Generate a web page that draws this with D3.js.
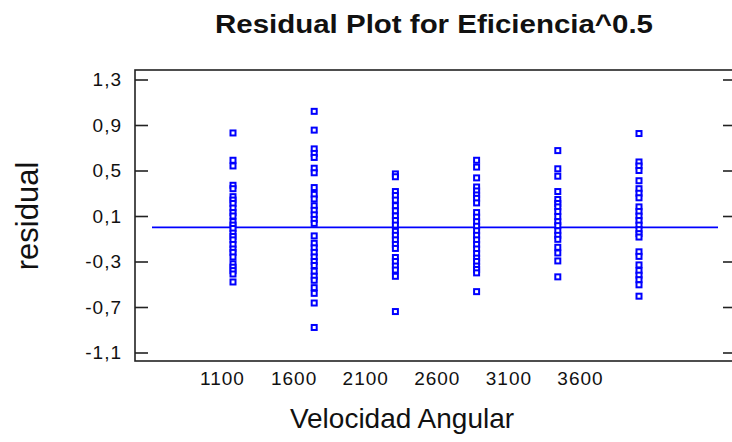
<!DOCTYPE html>
<html>
<head>
<meta charset="utf-8">
<script src="https://cdn.jsdelivr.net/npm/d3@7"></script>
<style>
  html, body { margin: 0; padding: 0; background: #fff; }
  svg { display: block; font-family: "Liberation Sans", Arial, sans-serif; }
</style>
</head>
<body>
<div id="chart"></div>
<script>
// velocity levels (x categories) and tick labels
const levels = [1100, 1600, 2100, 2600, 3100, 3600];
const yTicks = [1.3, 0.9, 0.5, 0.1, -0.3, -0.7, -1.1];

// residuals, one array per level
const res1100 = [0.83, 0.59, 0.54, 0.37, 0.34, 0.27, 0.24, 0.21, 0.17, 0.13, 0.10, 0.05, 0.02, -0.01, -0.05, -0.08, -0.11, -0.15, -0.19, -0.22, -0.26, -0.32, -0.35, -0.38, -0.41, -0.48];
const res1600 = [1.02, 0.855, 0.69, 0.65, 0.615, 0.52, 0.48, 0.35, 0.29, 0.25, 0.19, 0.15, 0.11, 0.07, 0.035, -0.075, -0.14, -0.18, -0.22, -0.26, -0.30, -0.335, -0.385, -0.43, -0.465, -0.53, -0.58, -0.665, -0.88];
const res2100 = [0.47, 0.445, 0.315, 0.28, 0.24, 0.19, 0.145, 0.10, 0.06, 0.02, -0.035, -0.07, -0.11, -0.15, -0.185, -0.265, -0.30, -0.34, -0.375, -0.43, -0.74];
const res2600 = [0.59, 0.53, 0.435, 0.355, 0.32, 0.285, 0.255, 0.215, 0.13, 0.09, 0.05, 0.01, -0.03, -0.07, -0.11, -0.15, -0.19, -0.23, -0.27, -0.30, -0.34, -0.37, -0.40, -0.565];
const res3100 = [0.675, 0.515, 0.45, 0.315, 0.245, 0.21, 0.18, 0.14, 0.095, 0.05, 0.015, -0.03, -0.07, -0.105, -0.175, -0.225, -0.295, -0.435];
const res3600 = [0.825, 0.575, 0.54, 0.50, 0.41, 0.34, 0.30, 0.26, 0.18, 0.14, 0.10, 0.06, 0.02, -0.02, -0.055, -0.085, -0.215, -0.255, -0.33, -0.38, -0.42, -0.46, -0.505, -0.605];

const residuals = [res1100, res1600, res2100, res2600, res3100, res3600];
const points = [];
levels.forEach((lv, i) => residuals[i].forEach(r => points.push({ level: lv, value: r })));

const width = 732, height = 442;
const frame = { left: 135, right: 736, top: 70, bottom: 361 };

const svg = d3.select('#chart').append('svg')
    .attr('width', width)
    .attr('height', height);

const yScale = d3.scaleLinear()
    .domain([1.3, -1.1])
    .range([79.5, 352.5]);

// point columns
const xPoint = d3.scalePoint()
    .domain(levels)
    .range([233, 639]);

// the tick labels sit a bit left of the columns in the original
const xLabel = d3.scaleLinear()
    .domain([1100, 3600])
    .range([222, 580]);

// comma decimals, plain hyphen for minus
const fmt = d => d3.format('.1f')(d).replace('.', ',').replace('\u2212', '-');

// frame
svg.append('rect')
    .attr('x', frame.left)
    .attr('y', frame.top)
    .attr('width', frame.right - frame.left)
    .attr('height', frame.bottom - frame.top)
    .attr('fill', 'none')
    .attr('stroke', '#222')
    .attr('stroke-width', 1.6);

// left axis, ticks pointing inward
const leftAxis = d3.axisLeft(yScale).tickValues(yTicks).tickSize(-13).tickPadding(13).tickFormat(fmt);
const gl = svg.append('g')
    .attr('transform', `translate(${frame.left},0)`)
    .call(leftAxis);
gl.select('.domain').remove();
gl.selectAll('line').attr('stroke', '#222').attr('stroke-width', 1.6);
gl.selectAll('text')
    .attr('font-size', 19)
    .attr('letter-spacing', 1)
    .attr('fill', '#111');

// right side ticks
const gr = svg.append('g')
    .attr('transform', `translate(${frame.right},0)`)
    .call(d3.axisRight(yScale).tickValues(yTicks).tickSize(-13).tickFormat(''));
gr.select('.domain').remove();
gr.selectAll('line').attr('stroke', '#222').attr('stroke-width', 1.6);

// bottom labels, no tick marks
const gb = svg.append('g')
    .attr('transform', `translate(0,${frame.bottom})`)
    .call(d3.axisBottom(xLabel).tickValues(levels).tickSize(0).tickPadding(11).tickFormat(d3.format('d')));
gb.select('.domain').remove();
gb.selectAll('text')
    .attr('font-size', 19)
    .attr('letter-spacing', 1)
    .attr('fill', '#111');

// zero line
svg.append('line')
    .attr('x1', 152)
    .attr('x2', 718)
    .attr('y1', yScale(0))
    .attr('y2', yScale(0))
    .attr('stroke', '#0000ff')
    .attr('stroke-width', 1.6);

// points: small open squares
const s = 5;
svg.append('g')
    .selectAll('rect')
    .data(points)
    .enter()
    .append('rect')
    .attr('x', d => xPoint(d.level) - s / 2)
    .attr('y', d => yScale(d.value) - s / 2)
    .attr('width', s)
    .attr('height', s)
    .attr('fill', '#fff')
    .attr('stroke', '#0000ff')
    .attr('stroke-width', 2);

// title
svg.append('text')
    .attr('x', 434)
    .attr('y', 33)
    .attr('text-anchor', 'middle')
    .attr('font-size', 25)
    .attr('font-weight', 'bold')
    .attr('textLength', 438)
    .attr('lengthAdjust', 'spacingAndGlyphs')
    .attr('fill', '#111')
    .text('Residual Plot for Eficiencia^0.5');

// axis labels
svg.append('text')
    .attr('x', 402)
    .attr('y', 428)
    .attr('text-anchor', 'middle')
    .attr('font-size', 28)
    .attr('fill', '#111')
    .text('Velocidad Angular');

svg.append('text')
    .attr('transform', 'translate(38,216) rotate(-90)')
    .attr('text-anchor', 'middle')
    .attr('font-size', 31)
    .attr('fill', '#111')
    .text('residual');
</script>
</body>
</html>
